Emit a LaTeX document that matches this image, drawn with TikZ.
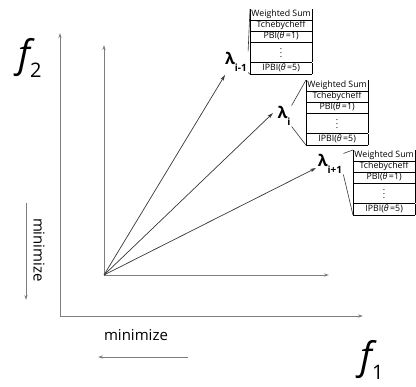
\documentclass[tikz,border=0pt]{standalone}
\usepackage{fontspec}
\setmainfont{Open Sans}
\usetikzlibrary{arrows.meta}
\definecolor{clrAx}{RGB}{125,125,125}
\definecolor{clrRay}{RGB}{55,55,55}
\newcommand{\objrows}{%
  \renewcommand{\arraystretch}{1.0}\setlength{\tabcolsep}{1.2pt}%
  \begin{tabular}{|c|}
    Weighted Sum\\\hline
    Tchebycheff\\\hline
    PBI(\textit{θ}\,=1)\\\hline
    \rule[-4pt]{0pt}{13pt}\raisebox{1pt}{$\vdots$}\\\hline
    \rule[-3.5pt]{0pt}{10pt}IPBI(\textit{θ}\,=5)\\\hline
  \end{tabular}}
\newcommand{\lamsub}[1]{λ\raisebox{-0.4em}{\fontsize{10}{10}\selectfont #1}}
\tikzset{
  axis/.style={-{Stealth[length=5pt,width=3.2pt]},line width=0.8pt,color=clrAx},
  ray/.style={-{Stealth[length=6pt,width=3.5pt]},line width=0.7pt,color=clrRay},
  callout/.style={line width=0.6pt,color=clrRay},
  objtab/.style={inner sep=0pt,anchor=north west,font=\fontsize{8.8}{10.6}\selectfont},
  lam/.style={inner sep=1pt,font=\fontsize{16}{16}\selectfont\bfseries},
  minlbl/.style={inner sep=0pt,font=\fontsize{15}{15}\selectfont},
  fname/.style={inner sep=0pt,font=\fontsize{38}{38}\selectfont\itshape}
}
\begin{document}
\begin{tikzpicture}[x=1pt,y=-1pt]
  \useasboundingbox (0,0) rectangle (416,387);
  \coordinate (corner) at (60,316);
  \coordinate (outtop) at (60,33);
  \coordinate (outright) at (363,316);
  \coordinate (origin) at (104,275);
  \coordinate (intop) at (104,45);
  \coordinate (inright) at (329,275);
  \coordinate (tip1) at (225,75);
  \coordinate (tip2) at (273,113);
  \coordinate (tip3) at (316,168);
  \coordinate (hminA) at (188,357);
  \coordinate (hminB) at (98,357);
  \coordinate (vminA) at (26,203);
  \coordinate (vminB) at (26,300);
  \node[fname] (ftwo) at (30,58) {f\raisebox{-0.28em}{\fontsize{20}{20}\selectfont\upshape 2}};
  \node[fname] (fone) at (372,360) {f\raisebox{-0.28em}{\fontsize{20}{20}\selectfont\upshape 1}};
  \node[minlbl] (hmin) at (136,335) {minimize};
  \node[minlbl,rotate=-90] (vmin) at (39,250) {minimize};
  \node[objtab] (tab1) at (250,9) {\objrows};
  \node[objtab] (tab2) at (306,80) {\objrows};
  \node[objtab] (tab3) at (353,150) {\objrows};
  \node[lam] (lam1) at (236,62) {\lamsub{i-1}};
  \node[lam] (lam2) at (284,116) {\lamsub{i}};
  \node[lam] (lam3) at (330,164) {\lamsub{i+1}};
  \draw[axis] (corner) -- (outtop);
  \draw[axis] (corner) -- (outright);
  \draw[axis] (origin) -- (intop);
  \draw[axis] (origin) -- (inright);
  \draw[axis] (hminA) -- (hminB);
  \draw[axis] (vminA) -- (vminB);
  \draw[ray] (origin) -- (tip1);
  \draw[ray] (origin) -- (tip2);
  \draw[ray] (origin) -- (tip3);
  \draw[callout] (lam1.north east) -- (tab1.north west);
  \draw[callout] (lam1.south east) -- (tab1.south west);
  \draw[callout] (lam2.north east) -- (tab2.north west);
  \draw[callout] (lam2.south east) -- (tab2.south west);
  \draw[callout] (lam3.north east) -- (tab3.north west);
  \draw[callout] (lam3.south east) -- (tab3.south west);
\end{tikzpicture}
\end{document}
